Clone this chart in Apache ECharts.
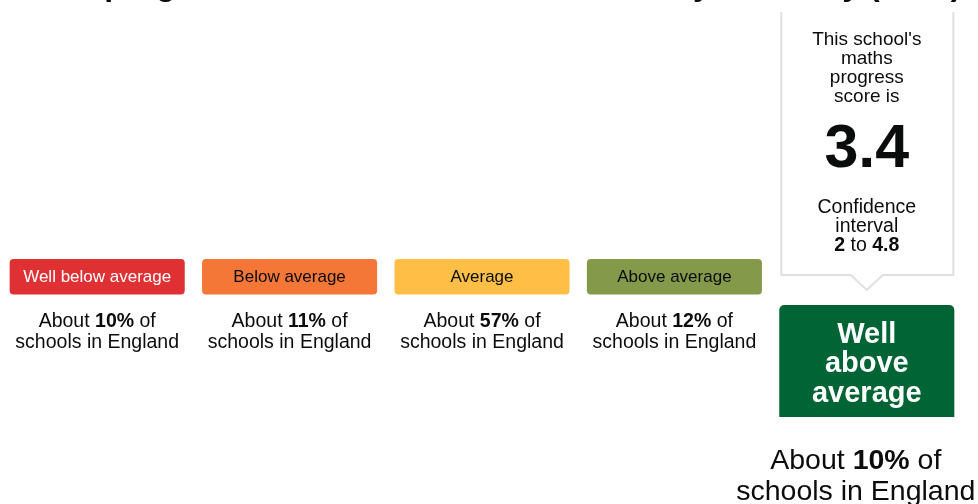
<!DOCTYPE html>
<html><head><meta charset="utf-8">
<script src="https://cdn.jsdelivr.net/npm/echarts@6.0.0/dist/echarts.min.js"></script>
<style>html,body{margin:0;padding:0;background:#fff}#c{width:978px;height:504px}</style>
</head><body><div id="c"></div>
<script>
// ---- data ----
const titleText = 'Maths progress score of this school nationally or locally (2019)';
const categories = ['Well below average', 'Below average', 'Average', 'Above average', 'Well above average'];
const schoolShares = [10, 11, 57, 12, 10];
const schoolBand = 'Well above average';
const scoreIntro = ["This school's", 'maths', 'progress', 'score is'];
const score = 3.4;
const ciLow = 2;
const ciHigh = 4.8;

// ---- styles ----
const bandColors = ['#df3034', '#f47738', '#ffbf47', '#85994b', '#006435'];
const bandTextColors = ['#ffffff', '#0b0c0c', '#0b0c0c', '#0b0c0c', '#ffffff'];
const FONT = "'Liberation Sans', Arial, sans-serif";
const INK = '#0b0c0c';
const BORDER = '#dee0e2';

const chart = echarts.init(document.getElementById('c'), null, {renderer: 'canvas'});

function renderItem(params, api) {
  const idx = api.value(0);
  const share = api.value(1);
  const cx = api.coord([idx, 0])[0];
  const band = api.size([1, 0])[0];
  const w = band * 0.91;
  const x0 = cx - w / 2;
  const name = categories[idx];
  const isSchool = name === schoolBand;
  const shareText = `{n|About }{b|${share}%}{n| of}\n{n|schools in England}`;

  if (!isSchool) {
    return {
      type: 'group',
      children: [
        {type: 'rect', shape: {x: x0, y: 259, width: w, height: 35.5, r: 4},
         style: {fill: bandColors[idx]}},
        {type: 'text', x: cx, y: 277.5,
         style: {text: name, fontSize: 17, fontFamily: FONT, fill: bandTextColors[idx],
                 align: 'center', verticalAlign: 'middle'}},
        {type: 'text', x: cx, y: 332.5,
         style: {text: shareText, align: 'center', verticalAlign: 'middle',
                 rich: {
                   n: {fontSize: 19.5, fontFamily: FONT, fill: INK, lineHeight: 21},
                   b: {fontSize: 19.5, fontFamily: FONT, fontWeight: 'bold', fill: INK, lineHeight: 21}
                 }}}
      ]
    };
  }

  const left = x0 + 2, right = x0 + w - 1;
  const labelWords = name.replace('Well above', 'Well\nabove').split(' ').join('\n');
  return {
    type: 'group',
    children: [
      {type: 'polyline',
       shape: {points: [[left, 12], [left, 275], [cx - 16, 275], [cx, 290], [cx + 16, 275], [right, 275], [right, 12]]},
       style: {stroke: BORDER, lineWidth: 2, fill: null}},
      {type: 'text', x: cx, y: 68.5,
       style: {text: scoreIntro.join('\n'), fontSize: 19, fontFamily: FONT, fill: INK,
               lineHeight: 19, align: 'center', verticalAlign: 'middle'}},
      {type: 'text', x: cx, y: 150,
       style: {text: String(score), fontSize: 61, fontWeight: 'bold', fontFamily: FONT, fill: INK,
               align: 'center', verticalAlign: 'middle'}},
      {type: 'text', x: cx, y: 226.5,
       style: {text: `{n|Confidence}\n{n|interval}\n{b|${ciLow}}{n| to }{b|${ciHigh}}`,
               align: 'center', verticalAlign: 'middle',
               rich: {
                 n: {fontSize: 19.5, fontFamily: FONT, fill: INK, lineHeight: 19},
                 b: {fontSize: 19.5, fontFamily: FONT, fontWeight: 'bold', fill: INK, lineHeight: 19}
               }}},
      {type: 'rect', shape: {x: x0, y: 305, width: w, height: 112, r: [5, 5, 0, 0]},
       style: {fill: bandColors[idx]}},
      {type: 'text', x: cx, y: 364,
       style: {text: labelWords, fontSize: 29, fontWeight: 'bold', fontFamily: FONT,
               fill: bandTextColors[idx], lineHeight: 29.5, align: 'center', verticalAlign: 'middle'}},
      {type: 'text', x: cx - 11, y: 476.5,
       style: {text: shareText, align: 'center', verticalAlign: 'middle',
               rich: {
                 n: {fontSize: 28.5, fontFamily: FONT, fill: INK, lineHeight: 31},
                 b: {fontSize: 28.5, fontFamily: FONT, fontWeight: 'bold', fill: INK, lineHeight: 31}
               }}}
    ]
  };
}

chart.setOption({
  animation: false,
  backgroundColor: '#ffffff',
  grid: {left: 1, right: 15, top: 0, bottom: 0},
  xAxis: {type: 'category', data: categories, show: false},
  yAxis: {type: 'value', min: 0, max: 100, show: false},
  graphic: [{
    type: 'text', x: 3, y: -14,
    style: {text: titleText, fontSize: 32, fontWeight: 'bold', fontFamily: FONT, fill: INK,
            align: 'left', verticalAlign: 'middle'}
  }],
  series: [{
    type: 'custom',
    renderItem: renderItem,
    data: categories.map((c, i) => [i, schoolShares[i]])
  }]
});
</script>
</body></html>
